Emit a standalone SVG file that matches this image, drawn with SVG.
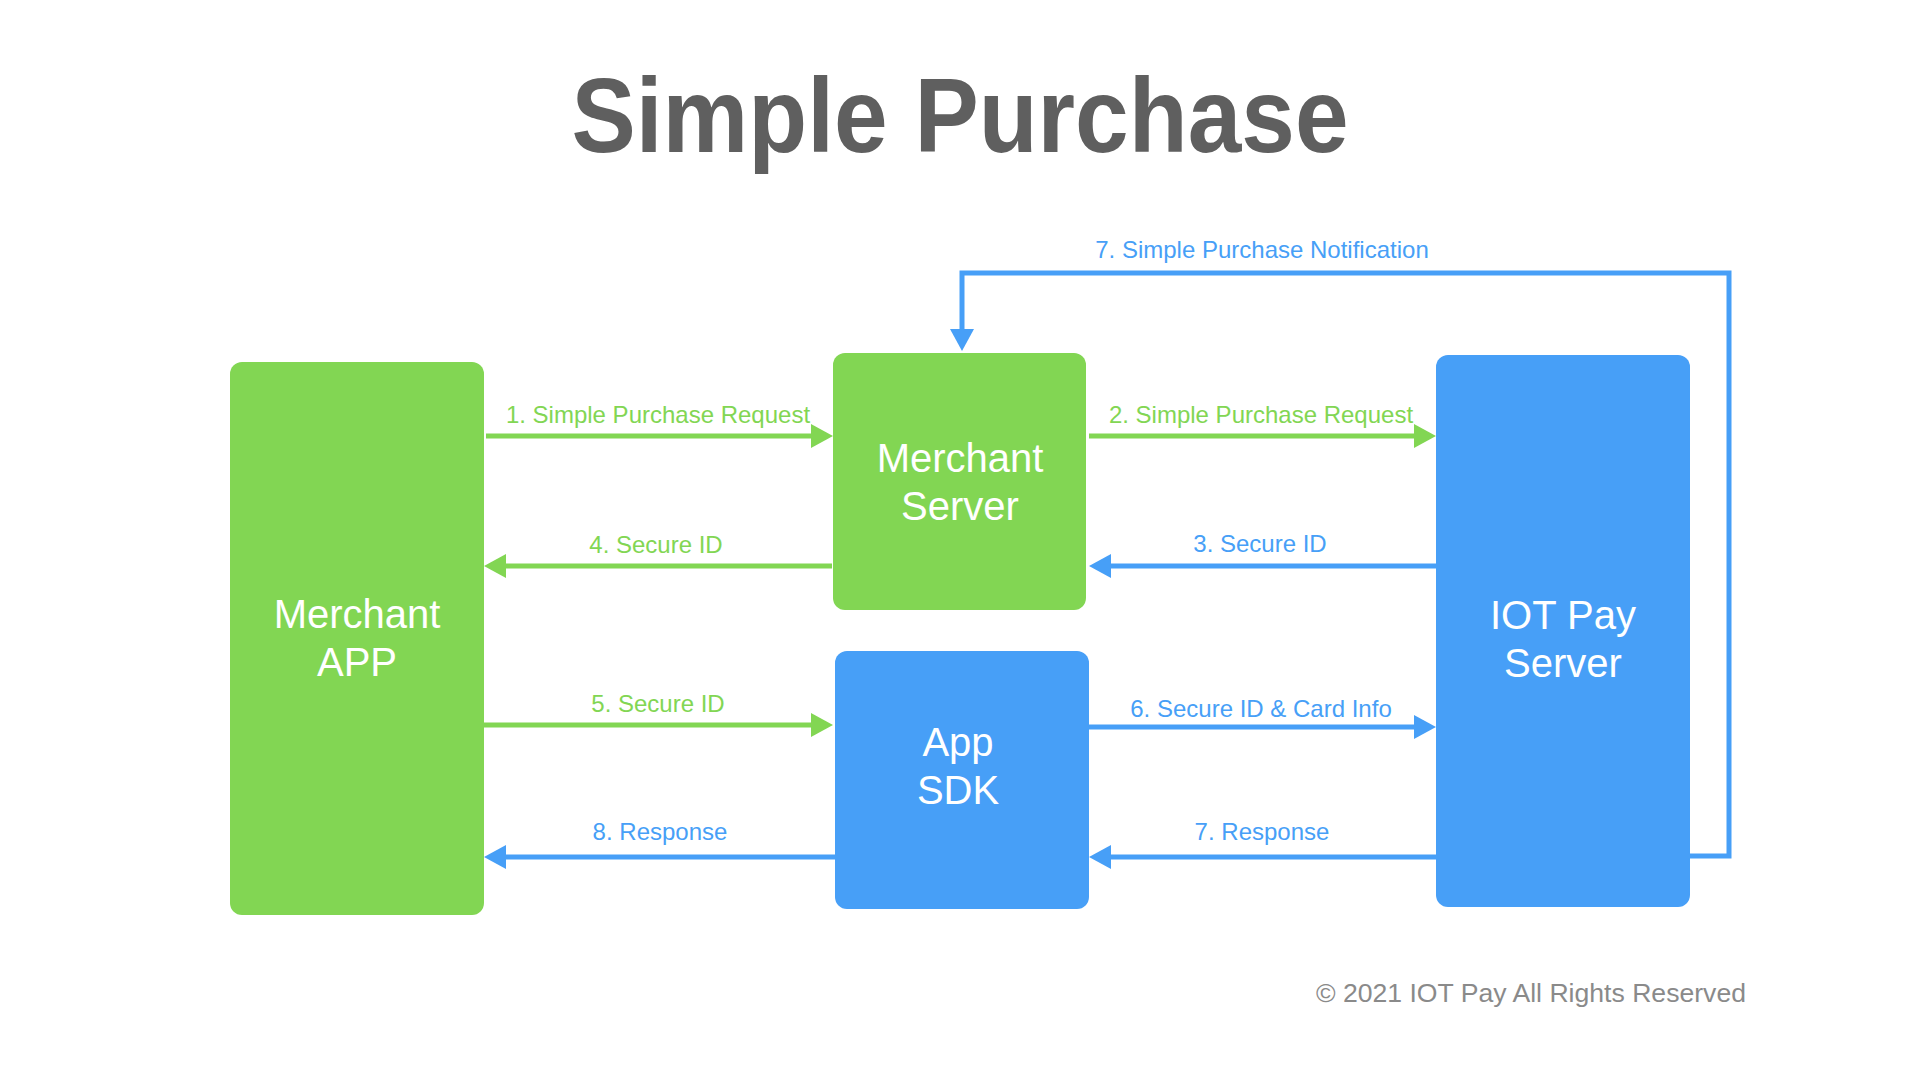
<svg xmlns="http://www.w3.org/2000/svg" width="1920" height="1080" viewBox="0 0 1920 1080">
<style>
.g{fill:#82D653}
.b{fill:#479FF7}
.lg{stroke:#82D653;stroke-width:5;fill:none}
.lb{stroke:#479FF7;stroke-width:5;fill:none}
.nl{font-family:"Liberation Sans",Arial,sans-serif;font-size:40px;fill:#FFFFFF;text-anchor:middle}
.al{font-family:"Liberation Sans",Arial,sans-serif;font-size:24px;text-anchor:middle}
.tg{fill:#82D653}
.tb{fill:#479FF7}
</style>
<defs>
<marker id="ag" markerUnits="userSpaceOnUse" markerWidth="22" markerHeight="24" viewBox="0 0 22 24" refX="0" refY="12" orient="auto"><path d="M0,0 L22,12 L0,24 z" fill="#82D653"/></marker>
<marker id="ab" markerUnits="userSpaceOnUse" markerWidth="22" markerHeight="24" viewBox="0 0 22 24" refX="0" refY="12" orient="auto"><path d="M0,0 L22,12 L0,24 z" fill="#479FF7"/></marker>
</defs>
<rect width="1920" height="1080" fill="#FFFFFF"/>
<text x="960" y="152" font-family="'Liberation Sans',Arial,sans-serif" font-size="106" font-weight="bold" fill="#5F5F5F" text-anchor="middle" textLength="777" lengthAdjust="spacingAndGlyphs">Simple Purchase</text>

<g id="merchant-app"><rect class="g" x="230" y="362" width="254" height="553" rx="12"/><text class="nl" x="357" y="628">Merchant</text><text class="nl" x="357" y="676">APP</text></g>
<g id="merchant-server"><rect class="g" x="833" y="353" width="253" height="257" rx="12"/><text class="nl" x="960" y="472">Merchant</text><text class="nl" x="960" y="520">Server</text></g>
<g id="app-sdk"><rect class="b" x="835" y="651" width="254" height="258" rx="12"/><text class="nl" x="958" y="756">App</text><text class="nl" x="958" y="804">SDK</text></g>
<g id="iot-pay-server"><rect class="b" x="1436" y="355" width="254" height="552" rx="12"/><text class="nl" x="1563" y="629">IOT Pay</text><text class="nl" x="1563" y="677">Server</text></g>

<g id="connectors">
<path class="lg" d="M486,436 H811" marker-end="url(#ag)"/>
<path class="lg" d="M1089,436 H1414" marker-end="url(#ag)"/>
<path class="lb" d="M1436,566 H1111" marker-end="url(#ab)"/>
<path class="lg" d="M832,566 H506" marker-end="url(#ag)"/>
<path class="lg" d="M484,725 H811" marker-end="url(#ag)"/>
<path class="lb" d="M1089,727 H1414" marker-end="url(#ab)"/>
<path class="lb" d="M1436,857 H1111" marker-end="url(#ab)"/>
<path class="lb" d="M835,857 H506" marker-end="url(#ab)"/>
<path class="lb" d="M1689,856 H1729 V273 H962 V329" marker-end="url(#ab)"/>
<text class="al tg" x="658" y="423">1. Simple Purchase Request</text>
<text class="al tg" x="1261" y="423">2. Simple Purchase Request</text>
<text class="al tb" x="1260" y="552">3. Secure ID</text>
<text class="al tg" x="656" y="553">4. Secure ID</text>
<text class="al tg" x="658" y="712">5. Secure ID</text>
<text class="al tb" x="1261" y="717">6. Secure ID &amp; Card Info</text>
<text class="al tb" x="1262" y="840">7. Response</text>
<text class="al tb" x="660" y="840">8. Response</text>
<text class="al tb" x="1262" y="258">7. Simple Purchase Notification</text>
</g>
<text x="1746" y="1002" font-family="'Liberation Sans',Arial,sans-serif" font-size="26.6" fill="#8A8A8A" text-anchor="end">© 2021 IOT Pay All Rights Reserved</text>
</svg>
